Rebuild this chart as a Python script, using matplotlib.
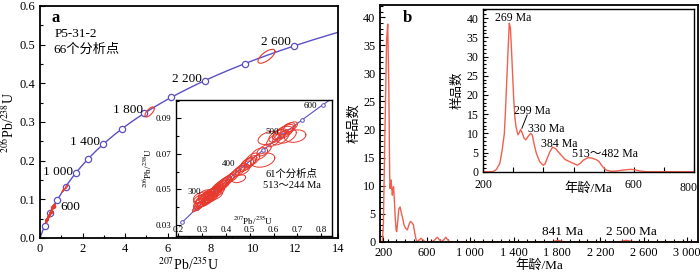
import numpy as np
import matplotlib.pyplot as plt
from matplotlib.ticker import MultipleLocator

plt.rcParams['font.family'] = ['Liberation Serif', 'Noto Sans CJK SC']
plt.rcParams['mathtext.fontset'] = 'stix'

# ---------------- data ----------------
# concordia marker ages (Ma)
ages_main = [200, 400, 600, 800, 1000, 1200, 1400, 1600, 1800, 2000, 2200, 2400, 2600]
ages_inset = [200, 250, 300, 350, 400, 450, 500, 550, 600]
age_labels_main = ['600', '1 000', '1 400', '1 800', '2 200', '2 600']

# error ellipses of the 61 young zircons: centre x, centre y, half-range x, half-range y, rho
ell_x = [0.272, 0.285, 0.290, 0.295, 0.300, 0.305, 0.310, 0.312, 0.318, 0.320,
         0.325, 0.328, 0.332, 0.335, 0.338, 0.342, 0.345, 0.348, 0.352, 0.355,
         0.358, 0.362, 0.366, 0.370, 0.374, 0.378, 0.382, 0.386, 0.390, 0.395,
         0.400, 0.300, 0.315, 0.290, 0.455, 0.420, 0.440, 0.455, 0.465, 0.470,
         0.480, 0.488, 0.495, 0.505, 0.512, 0.555, 0.540, 0.560, 0.580, 0.600,
         0.615, 0.625, 0.640, 0.650, 0.660, 0.690, 0.655, 0.630, 0.670, 0.430,
         0.410]
ell_y = [0.0390, 0.0405, 0.0420, 0.0415, 0.0430, 0.0425, 0.0440, 0.0435, 0.0450, 0.0440,
         0.0455, 0.0462, 0.0450, 0.0470, 0.0465, 0.0478, 0.0470, 0.0485, 0.0480, 0.0492,
         0.0488, 0.0500, 0.0498, 0.0510, 0.0505, 0.0518, 0.0522, 0.0528, 0.0535, 0.0540,
         0.0548, 0.0455, 0.0470, 0.0445, 0.0560, 0.0565, 0.0590, 0.0605, 0.0620, 0.0610,
         0.0630, 0.0640, 0.0650, 0.0660, 0.0670, 0.0665, 0.0700, 0.0720, 0.0790, 0.0775,
         0.0800, 0.0810, 0.0820, 0.0835, 0.0840, 0.0800, 0.0800, 0.0790, 0.0850, 0.0575,
         0.0555]
ell_ex = [0.012, 0.020, 0.025, 0.018, 0.030, 0.022, 0.035, 0.020, 0.030, 0.025,
          0.040, 0.022, 0.028, 0.035, 0.020, 0.030, 0.040, 0.022, 0.030, 0.025,
          0.035, 0.028, 0.020, 0.030, 0.025, 0.028, 0.022, 0.030, 0.025, 0.028,
          0.022, 0.035, 0.030, 0.025, 0.028, 0.020, 0.022, 0.025, 0.022, 0.030,
          0.025, 0.028, 0.030, 0.025, 0.030, 0.050, 0.035, 0.030, 0.045, 0.030,
          0.035, 0.030, 0.040, 0.035, 0.030, 0.045, 0.040, 0.035, 0.030, 0.025,
          0.025]
ell_ey = [0.0016, 0.0025, 0.0030, 0.0022, 0.0030, 0.0025, 0.0035, 0.0028, 0.0030, 0.0025,
          0.0030, 0.0028, 0.0030, 0.0032, 0.0025, 0.0030, 0.0030, 0.0028, 0.0032, 0.0030,
          0.0028, 0.0030, 0.0025, 0.0032, 0.0028, 0.0030, 0.0028, 0.0030, 0.0030, 0.0032,
          0.0028, 0.0030, 0.0028, 0.0025, 0.0022, 0.0028, 0.0030, 0.0030, 0.0028, 0.0030,
          0.0030, 0.0032, 0.0030, 0.0030, 0.0035, 0.0040, 0.0035, 0.0032, 0.0037, 0.0035,
          0.0035, 0.0030, 0.0035, 0.0030, 0.0035, 0.0035, 0.0040, 0.0040, 0.0030, 0.0030,
          0.0030]
ell_rho = [0.7, 0.6, 0.5, 0.7, 0.4, 0.6, 0.4, 0.7, 0.5, 0.6,
           0.3, 0.7, 0.6, 0.4, 0.7, 0.5, 0.3, 0.7, 0.5, 0.6,
           0.4, 0.6, 0.7, 0.5, 0.6, 0.6, 0.7, 0.5, 0.6, 0.6,
           0.7, 0.3, 0.4, 0.5, 0.4, 0.7, 0.7, 0.6, 0.7, 0.5,
           0.6, 0.5, 0.5, 0.6, 0.5, 0.3, 0.5, 0.6, 0.4, 0.6,
           0.5, 0.6, 0.5, 0.6, 0.5, 0.2, 0.5, 0.6, 0.6, 0.6,
           0.6]

# the older grains, only in the main diagram
old_x = [1.09, 1.24, 5.15, 10.64]
old_y = [0.123, 0.132, 0.326, 0.470]
old_ex = [0.05, 0.06, 0.22, 0.40]
old_ey = [0.004, 0.005, 0.013, 0.018]
old_rho = [0.8, 0.8, 0.7, 0.7]

# probability curve, full range (panel b)
kde_age = [169, 190, 200, 215, 230, 240, 250, 258, 262, 267, 271, 277, 283, 289, 294,
           300, 310, 318, 323, 332, 342, 354, 365, 378, 390, 405, 421, 435, 449, 463,
           477, 490, 499, 508, 530, 548, 566, 585, 650, 672, 698, 718, 735, 755, 775,
           795, 810, 1760, 1810, 1860, 2380, 2440, 2505, 3100]
kde_n = [0, 0, 3, 20, 36, 38.8, 28, 12, 9.5, 10.5, 11, 9.5, 8.3, 9.5, 9.8,
         8, 4, 2, 1.8, 3.5, 5.8, 6.2, 5.2, 4.2, 3, 2.4, 2.1, 3, 3.6, 3.4,
         3.0, 1.5, 0.6, 0, 0.3, 0.6, 0.3, 0, 0, 0.3, 0.8, 0.3, 0, 0.3, 0.8,
         0.3, 0, 0, 0.25, 0, 0, 0.25, 0, 0]

# probability curve, 200-760 Ma (inset of panel b)
kde_age_in = [200, 226, 235, 244, 250, 256, 259, 262, 266, 269, 272, 275, 278, 281, 284,
              287, 292, 296, 299, 303, 308, 313, 320, 326, 330, 335, 341, 350, 359, 364,
              368, 376, 384, 392, 399, 408, 417, 434, 450, 458, 466, 479, 490, 501, 508,
              514, 520, 527, 540, 555, 571, 583, 593, 605, 615, 633, 760]
kde_n_in = [0, 0, 0.6, 2.2, 5.5, 10, 16, 23, 32, 38.7, 37.5, 31.7, 25, 18.7, 14,
            11.7, 9.6, 10.2, 11, 10.2, 8.8, 8.3, 9.3, 10, 9.6, 7.2, 4.8, 2.6, 1.7, 2.0,
            3, 5.0, 6.4, 6.0, 5.2, 4.2, 3.2, 2.4, 1.7, 2.2, 3, 3.7, 3.5, 3.1, 2.6,
            1.7, 1.0, 0.4, 0.1, 0.2, 0.4, 0.55, 0.6, 0.45, 0.2, 0, 0]

# ---------------- helpers ----------------
LAM238 = 1.55125e-10
LAM235 = 9.8485e-10
C_LINE = '#5b4fc4'
C_RED = '#e8392d'
C_KDE = '#f0604f'


def conc(t_ma):
    # concordia ratios for ages in Ma
    t = np.asarray(t_ma, dtype=float) * 1e6
    return np.exp(LAM235 * t) - 1, np.exp(LAM238 * t) - 1


def ellipse(ax, cx, cy, ex, ey, rho, lw=0.7):
    th = np.linspace(0, 2 * np.pi, 80)
    phi = np.arccos(rho)
    ax.plot(cx + ex * np.cos(th), cy + ey * np.cos(th - phi), color=C_RED, lw=lw)


W, H = 700, 274
fig = plt.figure(figsize=(W / 100, H / 100), dpi=100)


def px_axes(x0, y0, x1, y1):
    return fig.add_axes([x0 / W, 1 - y1 / H, (x1 - x0) / W, (y1 - y0) / H])


def style(ax, size, lw=1.0):
    for s in ax.spines.values():
        s.set_linewidth(lw)
    ax.tick_params(which='both', direction='in', labelsize=size, width=0.8)
    ax.tick_params(which='major', length=3.5)
    ax.tick_params(which='minor', length=2)


PB76 = r'$^{207}$Pb/$^{235}$U'
PB68 = r'$^{206}$Pb/$^{238}$U'

# ---------------- panel a ----------------
ax1 = px_axes(40, 6, 338, 238)
t_line = np.linspace(0, 2760, 400)
cx, cy = conc(t_line)
ax1.plot(cx, cy, color=C_LINE, lw=1.0)
mx, my = conc(ages_main)
ax1.plot(mx, my, 'o', ms=4.5, mfc='white', mec=C_LINE, mew=0.9)
for i in range(len(ell_x)):
    ellipse(ax1, ell_x[i], ell_y[i], ell_ex[i], ell_ey[i], ell_rho[i], lw=0.8)
for i in range(len(old_x)):
    ellipse(ax1, old_x[i], old_y[i], old_ex[i], old_ey[i], old_rho[i], lw=0.8)

ax1.set_xlim(0, 14)
ax1.set_ylim(0, 0.6)
ax1.xaxis.set_major_locator(MultipleLocator(2))
ax1.xaxis.set_minor_locator(MultipleLocator(1))
ax1.yaxis.set_major_locator(MultipleLocator(0.1))
ax1.yaxis.set_minor_locator(MultipleLocator(0.05))
ax1.yaxis.set_major_formatter(lambda v, p: '%.1f' % v)
style(ax1, 9, lw=1.3)
ax1.set_xlabel(PB76, fontsize=10, labelpad=1)
ax1.set_ylabel(PB68, fontsize=10, labelpad=2)

lab_x = [0.94, 1.57, 2.82, 4.85, 7.59, 11.8]
lab_y = [0.081, 0.171, 0.249, 0.331, 0.412, 0.507]
for k, s in enumerate(age_labels_main):
    ax1.text(lab_x[k], lab_y[k], s, fontsize=9.5, ha='left' if k == 0 else 'right',
             va='center')
ax1.text(0.55, 0.568, 'a', fontsize=12, fontweight='bold', va='center')
ax1.text(0.7, 0.527, 'P5-31-2', fontsize=9.5, va='center')
ax1.text(0.62, 0.486, '66个分析点', fontsize=9.5, va='center')

# inset of panel a
ax2 = px_axes(176, 100, 332, 236)
ti = np.linspace(200, 640, 200)
ix, iy = conc(ti)
ax2.plot(ix, iy, color=C_LINE, lw=0.8)
ax, ay = conc(ages_inset)
ax2.plot(ax, ay, 'o', ms=2.6, mfc='white', mec=C_LINE, mew=0.7)
for i in range(len(ell_x)):
    ellipse(ax2, ell_x[i], ell_y[i], ell_ex[i], ell_ey[i], ell_rho[i], lw=0.7)
ax2.set_xlim(0.1916, 0.8444)
ax2.set_ylim(0.0238, 0.1003)
ax2.xaxis.set_major_locator(MultipleLocator(0.1))
ax2.set_yticks([0.03, 0.05, 0.07, 0.09])
ax2.yaxis.set_minor_locator(MultipleLocator(0.01))
style(ax2, 6.5, lw=1.0)
ax2.tick_params(axis='x', pad=-7.5, length=2)
ax2.set_ylabel(PB68, fontsize=6.5, labelpad=1)
ax2.text(0.514, 0.0325, PB76, fontsize=6.5, ha='center', va='center')
for s, xx, yy in [('300', 0.268, 0.0487), ('400', 0.412, 0.0644),
                  ('500', 0.596, 0.0822), ('600', 0.756, 0.0971)]:
    ax2.text(xx, yy, s, fontsize=6.5, ha='center', va='center')
ax2.text(0.676, 0.0585, '61个分析点', fontsize=7.5, ha='center', va='center')
ax2.text(0.676, 0.0522, '513～244 Ma', fontsize=7.5, ha='center', va='center')

# ---------------- panel b ----------------
ax3 = px_axes(380, 5, 698, 241.7)
ax3.plot(kde_age, kde_n, color=C_KDE, lw=1.0)
ax3.set_xlim(169, 3100)
ax3.set_ylim(0, 42.2)
ax3.set_xticks(np.arange(200, 3001, 400))
ax3.set_xticklabels(['200', '600', '1 000', '1 400', '1 800', '2 200', '2 600', '3 000'])
ax3.xaxis.set_minor_locator(MultipleLocator(80))
ax3.yaxis.set_major_locator(MultipleLocator(5))
ax3.yaxis.set_minor_locator(MultipleLocator(1))
style(ax3, 8.8, lw=1.3)
ax3.set_xlabel('年龄/Ma', fontsize=9.5, labelpad=0)
ax3.set_ylabel('样品数', fontsize=9.5, labelpad=2)
ax3.text(381, 39.9, 'b', fontsize=12, fontweight='bold', va='center')
ax3.text(1853, 1.7, '841 Ma', fontsize=9.5, ha='center', va='center')
ax3.text(2489, 1.7, '2 500 Ma', fontsize=9.5, ha='center', va='center')

# inset of panel b
ax4 = px_axes(483.3, 9.3, 694, 171.7)
ax4.plot(kde_age_in, kde_n_in, color=C_KDE, lw=1.0)
ax4.set_xlim(200, 760)
ax4.set_ylim(0, 42.3)
ax4.set_xticks(np.arange(200, 761, 80))
ax4.set_xticklabels(['200', '', '', '', '', '600', '', ''])
ax4.yaxis.set_major_locator(MultipleLocator(5))
ax4.yaxis.set_minor_locator(MultipleLocator(1))
style(ax4, 8.5, lw=1.0)
ax4.tick_params(axis='x', pad=5)
ax4.text(745, -2.6, '800', fontsize=8.5, ha='center', va='top')
ax4.set_xlabel('年龄/Ma', fontsize=9.5, labelpad=-6)
ax4.set_ylabel('样品数', fontsize=9, labelpad=2)
ax4.text(279, 40, '269 Ma', fontsize=8.5, ha='center', va='center')
ax4.text(329, 15.8, '299 Ma', fontsize=8.5, ha='center', va='center')
ax4.plot([316.6, 302.5], [14.8, 11.3], color='black', lw=0.7)
ax4.text(366, 11.1, '330 Ma', fontsize=8.5, ha='center', va='center')
ax4.text(403, 7.2, '384 Ma', fontsize=8.5, ha='center', va='center')
ax4.text(524, 4.6, '513～482 Ma', fontsize=8.5, ha='center', va='center')

fig.savefig('out.png', dpi=100)
